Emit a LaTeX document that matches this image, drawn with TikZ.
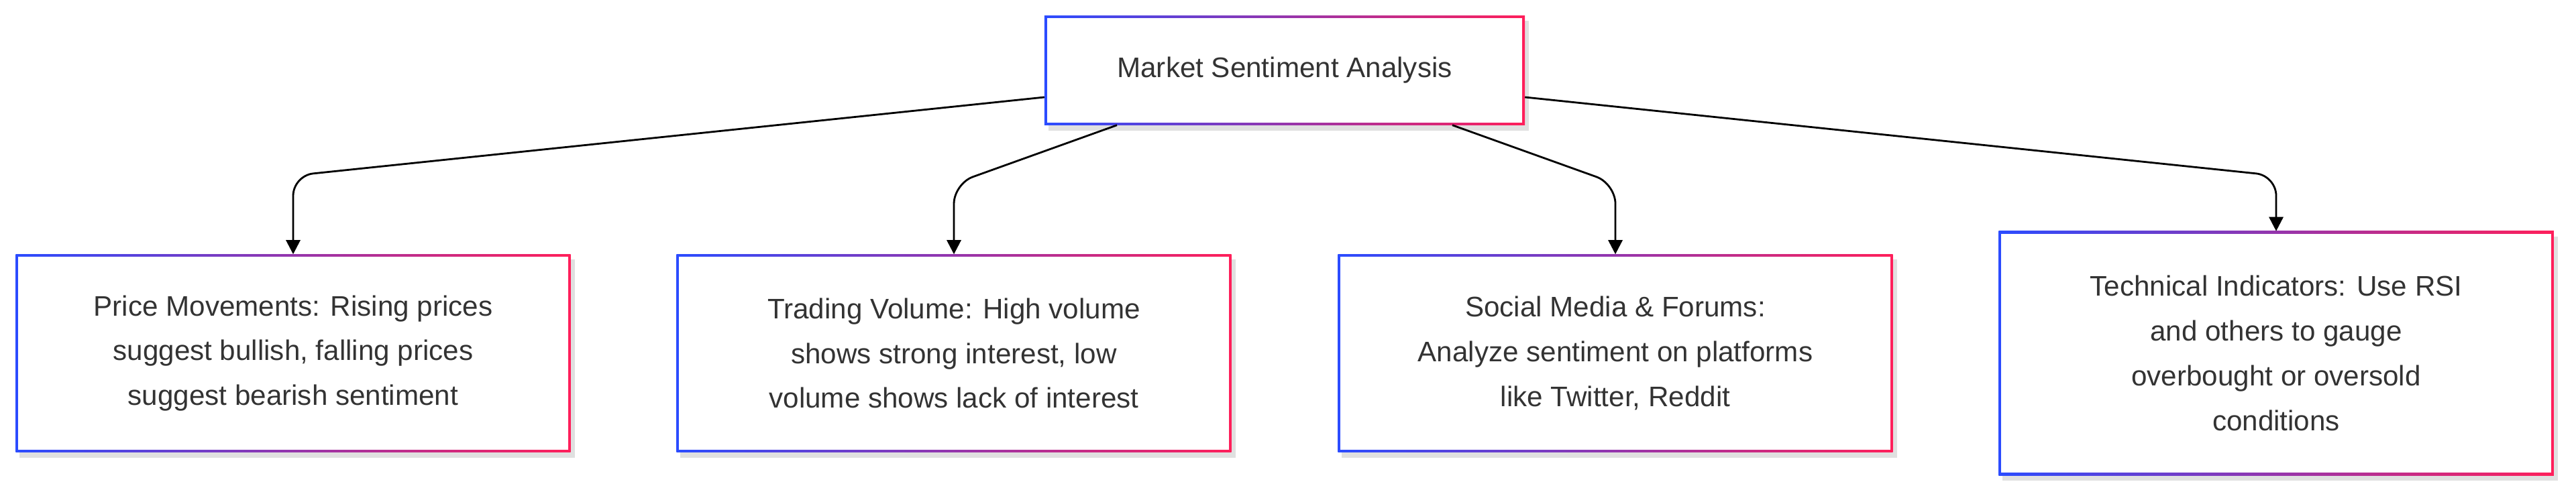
\documentclass[tikz,border=0pt]{standalone}
\usepackage{fontspec}
\setmainfont{Liberation Sans}
\usetikzlibrary{arrows.meta}
\definecolor{edgeblue}{HTML}{2B4CFF}
\definecolor{edgepink}{HTML}{FF1F5A}
\definecolor{inktext}{HTML}{333333}
\pgfdeclarelayer{background}
\pgfsetlayers{background,main}
\tikzset{
  sentbox/.style={align=center, text=inktext, font=\fontsize{12}{19}\selectfont,
    minimum width=8.26cm, minimum height=2.94cm, inner sep=0pt},
  link/.style={draw=black, line width=0.8pt, rounded corners=0.3cm, -{Triangle[length=6pt,width=6pt]}}
}
\begin{document}
\begin{tikzpicture}
  \useasboundingbox (0,0) rectangle (38.4,7.36);

  \node[sentbox, minimum width=7.15cm, minimum height=1.62cm] (root) at (19.15,6.31)
    {Market Sentiment Analysis};
  \node[sentbox] (price) at (4.37,2.09)
    {Price Movements: Rising prices\\suggest bullish, falling prices\\suggest bearish sentiment};
  \node[sentbox] (volume) at (14.22,2.09)
    {Trading Volume: High volume\\shows strong interest, low\\volume shows lack of interest};
  \node[sentbox] (social) at (24.08,2.09)
    {Social Media \& Forums:\\Analyze sentiment on platforms\\like Twitter, Reddit};
  \node[sentbox, minimum height=3.63cm] (tech) at (33.93,2.09)
    {Technical Indicators: Use RSI\\and others to gauge\\overbought or oversold\\conditions};

  % gradient frames
  \begin{pgfonlayer}{background}
    \foreach \n in {root,price,volume,social,tech} {
      \fill[black!12] ([xshift=0.06cm,yshift=-0.08cm]\n.south west) rectangle ([xshift=0.06cm,yshift=-0.08cm]\n.north east);
      \shade[left color=edgeblue, right color=edgepink] (\n.south west) rectangle (\n.north east);
      \fill[white] ([shift={(0.04,0.04)}]\n.south west) rectangle ([shift={(-0.04,-0.04)}]\n.north east);
    }
  \end{pgfonlayer}

  \draw[link] ([yshift=-0.4cm]root.west) -- (price.north |- 0,4.74) -- (price.north);
  \draw[link] ([xshift=-2.5cm]root.south) -- (volume.north |- 0,4.62) -- (volume.north);
  \draw[link] ([xshift=2.5cm]root.south) -- (social.north |- 0,4.62) -- (social.north);
  \draw[link] ([yshift=-0.4cm]root.east) -- (tech.north |- 0,4.74) -- (tech.north);
\end{tikzpicture}
\end{document}
